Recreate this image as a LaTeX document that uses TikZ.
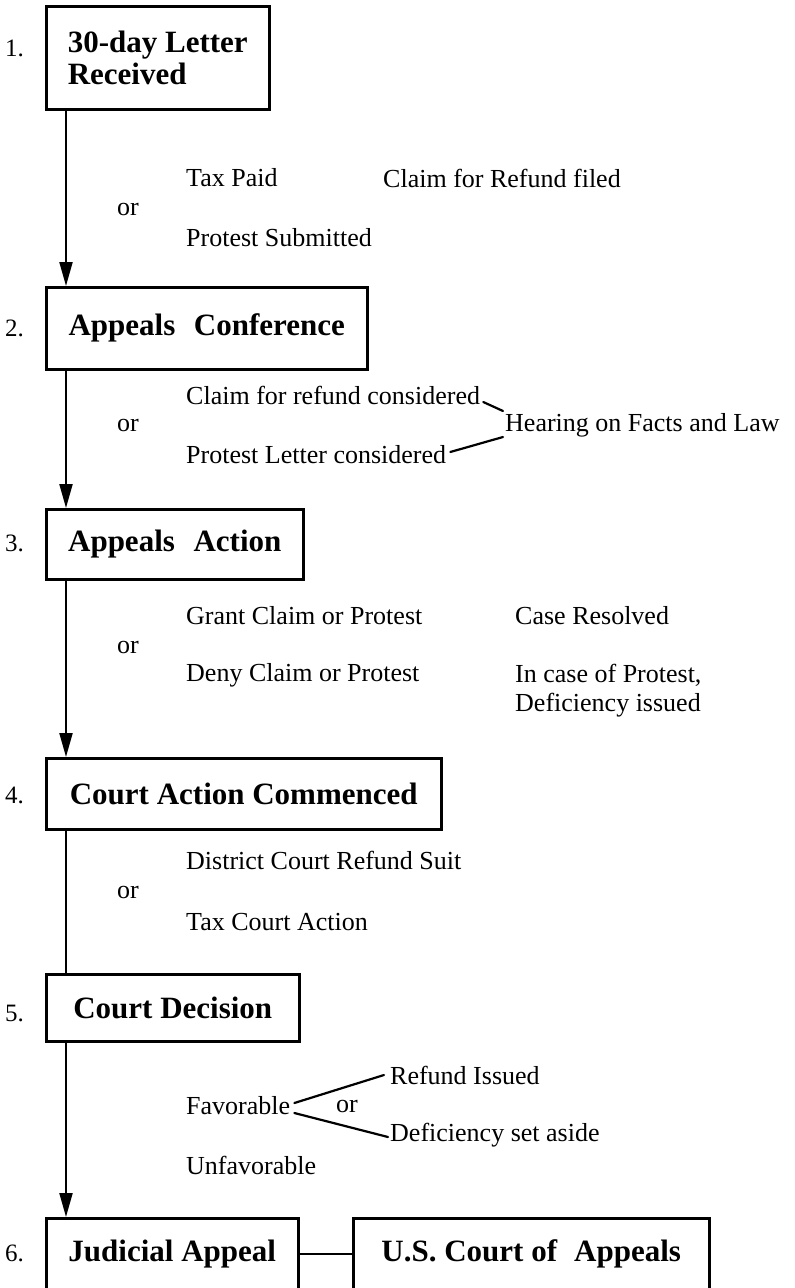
\documentclass[tikz,border=0pt]{standalone}
\usepackage{fontspec}
\setmainfont{Liberation Serif}
\usetikzlibrary{arrows.meta,positioning}
\begin{document}
\begin{tikzpicture}[x=1pt,y=-1pt,
  box/.style={draw,line width=2.5pt,anchor=north west,inner sep=0pt,align=left,
     font=\fontsize{31}{32}\selectfont\bfseries},
  lbl/.style={anchor=west,inner sep=0pt,font=\fontsize{26}{30}\selectfont},
  num/.style={anchor=west,inner sep=0pt,font=\fontsize{25}{30}\selectfont},
  flow/.style={line width=2pt},
  arr/.style={line width=2pt,-{Triangle[length=24pt,width=13pt]}},
  tie/.style={line width=2.2pt,line cap=round}]
\useasboundingbox (0,0) rectangle (795,1288);
\fill[white] (0,0) rectangle (795,1288);

% boxes
\node[box,minimum width=223pt,minimum height=103pt] (b1) at (45,5)
  {30-day Letter\\Received};
\node[box,minimum width=321pt,minimum height=82pt] (b2) at (45,286)
  {Appeals\hspace{0.35em} Conference};
\node[box,minimum width=257pt,minimum height=70pt] (b3) at (45,508)
  {Appeals\hspace{0.35em} Action};
\node[box,minimum width=395pt,minimum height=71pt] (b4) at (45,757)
  {Court Action Commenced};
\node[box,minimum width=253pt,minimum height=67pt] (b5) at (45,973)
  {Court Decision};
\node[box,minimum width=252pt,minimum height=72pt] (b6) at (45,1217)
  {Judicial Appeal};
\node[box,minimum width=356pt,minimum height=72pt] (b7) at (352,1217)
  {U.S. Court of\hspace{0.3em} Appeals};

% numbers
\node[num] (n1) at (5,48) {1.};
\node[num] (n2) at (5,328) {2.};
\node[num] (n3) at (5,543) {3.};
\node[num] (n4) at (5,795) {4.};
\node[num] (n5) at (5,1013) {5.};
\node[num] (n6) at (5,1253) {6.};

% spine
\draw[arr] ([xshift=21pt]b1.south west) -- ([xshift=21pt]b2.north west);
\draw[arr] ([xshift=21pt]b2.south west) -- ([xshift=21pt]b3.north west);
\draw[arr] ([xshift=21pt]b3.south west) -- ([xshift=21pt]b4.north west);
\draw[flow] ([xshift=21pt]b4.south west) -- ([xshift=21pt]b5.north west);
\draw[arr] ([xshift=21pt]b5.south west) -- ([xshift=21pt]b6.north west);
\draw[flow] (b6.east) -- (b7.west);

% stage 1
\node[lbl] (t1) at (186,178) {Tax Paid};
\node[lbl] (t2) at (383,178) {Claim for Refund filed};
\node[lbl] (o1) at (117,209) {or};
\node[lbl] (t3) at (186,238) {Protest Submitted};

% stage 2
\node[lbl] (c1) at (186,395) {Claim for refund considered};
\node[lbl] (o2) at (117,425) {or};
\node[lbl] (hr) at (505,425) {Hearing on Facts and Law};
\node[lbl] (c2) at (186,455) {Protest Letter considered};
\draw[tie] ([shift={(3,7)}]c1.east) -- ([shift={(-2,-14)}]hr.west);
\draw[tie] ([shift={(4,-3)}]c2.east) -- ([shift={(-2,12)}]hr.west);

% stage 3
\node[lbl] (g1) at (186,616) {Grant Claim or Protest};
\node[lbl] (g2) at (515,616) {Case Resolved};
\node[lbl] (o3) at (117,647) {or};
\node[lbl] (d1) at (186,675) {Deny Claim or Protest};
\node[lbl] (d2) at (515,675) {In case of Protest,};
\node[lbl] (d3) at (515,705) {Deficiency issued};

% stage 4
\node[lbl] (s1) at (186,860) {District Court Refund Suit};
\node[lbl] (o4) at (117,892) {or};
\node[lbl] (s2) at (186,922) {Tax Court Action};

% stage 5
\node[lbl] (r1) at (390,1075) {Refund Issued};
\node[lbl] (fv) at (186,1106) {Favorable};
\node[lbl] (o5) at (336,1106) {or};
\node[lbl] (r2) at (390,1135) {Deficiency set aside};
\node[lbl] (uf) at (186,1165) {Unfavorable};
\draw[tie] ([shift={(4,-3)}]fv.east) -- ([shift={(-6,0)}]r1.west);
\draw[tie] ([shift={(4,7)}]fv.east) -- ([shift={(-2,2)}]r2.west);
\end{tikzpicture}
\end{document}
